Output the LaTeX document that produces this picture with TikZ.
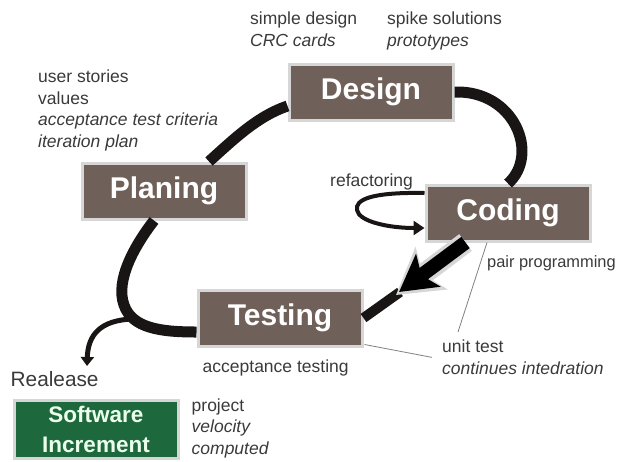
\documentclass[tikz,border=0pt]{standalone}
\usepackage{fontspec}
\setmainfont{Liberation Sans}
\usetikzlibrary{positioning}
\usetikzlibrary{calc}
\usetikzlibrary{arrows.meta}
\definecolor{boxbrown}{RGB}{111,96,89}
\definecolor{boxrim}{RGB}{214,214,214}
\definecolor{relgreen}{RGB}{30,104,62}
\definecolor{notegray}{RGB}{58,58,58}
\definecolor{loopblack}{RGB}{26,21,21}
\tikzset{phase node/.style={shape=rectangle,
    draw=boxrim, line width=3pt, fill=boxbrown,
    text=white, font=\fontsize{30}{30}\selectfont\bfseries,
    minimum width=164pt, minimum height=56pt, inner sep=0pt}}
\tikzset{release node/.style={phase node, fill=relgreen,
    text=white!92!green, align=center,
    font=\fontsize{22.5}{30}\selectfont\bfseries}}
\tikzset{note/.style={align=left, inner sep=0pt, text=notegray,
    font=\fontsize{17.5}{21.5}\selectfont}}
\tikzset{cycle line/.style={draw=loopblack, line width=11pt}}
\tikzset{thin link/.style={draw=gray, line width=0.8pt}}

\begin{document}
\begin{tikzpicture}[x=1pt, y=-1pt]
    \useasboundingbox (0,0) rectangle (617,461);

    % the four phases
    \node[phase node] (design) at (371,92) {Design};
    \node[phase node] (coding) at (508,213) {Coding};
    \node[phase node] (planing) at (164,191) {Planing};
    \node[phase node] (testing) at (280,318) {Testing};

    \node[release node, minimum height=58pt] (increment) at (96,429) {Software\\Increment};

    % notes round the phases
    \node[note, anchor=north west] (dnotes) at (250,12) {simple design\\\textit{CRC cards}};
    \node[note, anchor=north west] (spike) at (387,12) {spike solutions\\\textit{prototypes}};
    \node[note, anchor=north west] (pnotes) at (38,70) {user stories\\values\\\textit{acceptance test criteria}\\\textit{iteration plan}};
    \node[note, anchor=north west] (refac) at (330,174) {refactoring};
    \node[note, anchor=north west, font=\fontsize{16.4}{20}\selectfont] (pair) at (487,255) {pair programming};
    \node[note, anchor=north west] (unit) at (442,340) {unit test\\\textit{continues intedration}};
    \node[note] (accept) [below right = 12pt and 6pt of testing.south west] {acceptance testing};
    \node[note, font=\fontsize{20.8}{24}\selectfont] (release) [above right = 12pt and -2pt of increment.north west] {Realease};
    \node[note] (velocity) [below right = 0pt and 12pt of increment.north east] {project\\\textit{velocity}\\\textit{computed}};

    % the loop
    \draw[cycle line] ($(planing.north)+(45,0)$) .. controls (235,138) and (258,116) .. ($(design.west)+(0,14)$);
    \draw[cycle line] (design.east) .. controls (515,90) and (540,155) .. (coding.north);
    \draw[cycle line, line width=10pt] (400,292) -- (testing.east);
    \draw[draw=boxrim, line width=21pt, -{Stealth[length=44pt,width=52pt,inset=10pt]}]
        ($(coding.south west)+(41,0)$) -- (396,295);
    \draw[draw=black, line width=14pt, -{Stealth[length=36pt,width=40pt,inset=8pt]}]
        ($(coding.south west)+(41,0)$) -- (399,292);
    \draw[cycle line] ($(testing.west)+(0,14)$) .. controls (160,332) and (132,328) .. (124,305)
        coordinate[pos=0.75] (fork)
        .. controls (115,280) and (135,245) .. ($(planing.south)+(-10,0)$);

    % refactoring and release
    \draw[draw=loopblack, line width=4pt, -{Triangle[length=11pt,width=14pt]}]
        ($(coding.west)+(0,-20)$) .. controls (370,192) and (355,200) .. (357,210)
        .. controls (359,222) and (390,228) .. ($(coding.west)+(0,15)$);
    \draw[draw=loopblack, line width=5pt, -{Triangle[length=9pt,width=13pt]}]
        (fork) .. controls (100,320) and (88,335) .. (87,366);

    % pointer lines
    \draw[thin link] ($(coding.south)+(-21,0)$) -- ($(unit.north west)+(16,-8)$);
    \draw[thin link] ($(testing.south east)+(1,-3)$) -- ($(unit.west)+(-10,0)$);
\end{tikzpicture}
\end{document}
